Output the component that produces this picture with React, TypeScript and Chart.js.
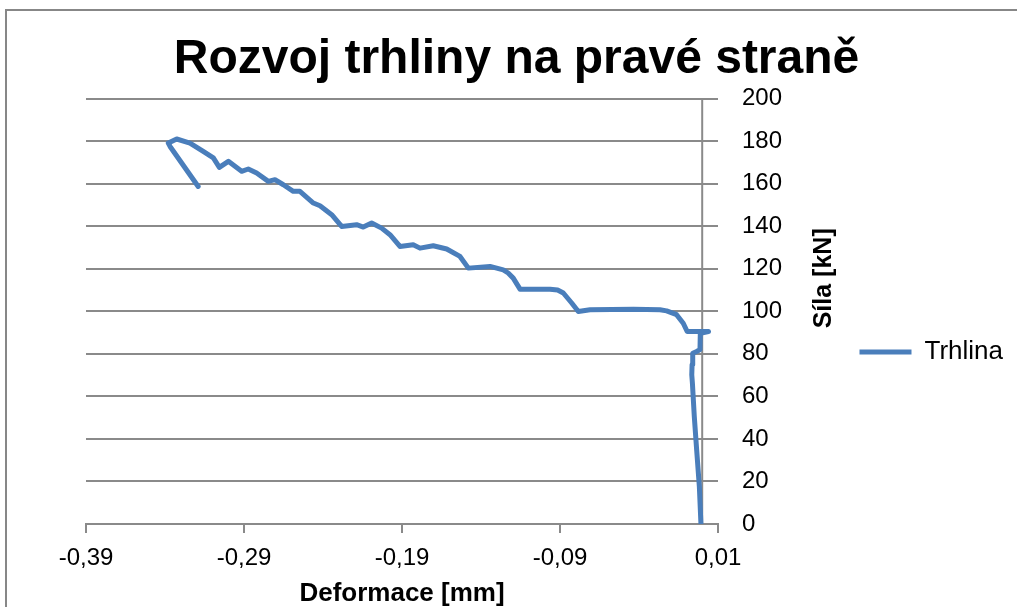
import { useEffect, useRef } from 'react';
import { Chart, registerables } from 'chart.js';

Chart.register(...registerables);

// ---- Data ----
const chartTitle = 'Rozvoj trhliny na pravé straně';
const seriesName = 'Trhlina';
const xAxisTitle = 'Deformace [mm]';
const yAxisTitle = 'Síla [kN]';

// Deformation [mm] in loading order
const deformace = [
  -0.0008, -0.0018, -0.0035, -0.005, -0.0062, -0.0066, -0.0064, -0.006, -0.0035, -0.0014,
  -0.0012, 0.004, -0.0095, -0.012, -0.0162, -0.0225, -0.0267, -0.0436, -0.071, -0.0784,
  -0.0826, -0.0879, -0.0915, -0.0963, -0.1153, -0.1196, -0.1228, -0.1259, -0.1343, -0.148,
  -0.1533, -0.1617, -0.1702, -0.1786, -0.1829, -0.1913, -0.1976, -0.2029, -0.2092, -0.2145,
  -0.2187, -0.2282, -0.2345, -0.2419, -0.2461, -0.2546, -0.2588, -0.2651, -0.2704, -0.2746,
  -0.282, -0.2873, -0.2915, -0.2999, -0.3056, -0.3094, -0.3158, -0.3242, -0.3326, -0.3379,
  -0.3368, -0.319,
];
// Force [kN]
const sila = [
  0, 17.6, 34.8, 50.5, 66.2, 70.1, 75, 80.3, 81.1, 82,
  89.7, 90.5, 90.5, 94.4, 98.4, 100.2, 100.7, 101, 100.7, 99.9,
  103.9, 108.6, 110, 110.4, 110.4, 115.6, 118, 119.5, 121.1, 120.3,
  125.8, 129.3, 130.8, 129.7, 131.3, 130.5, 136, 139.1, 141.5, 139.6,
  140.7, 139.9, 145.4, 149.6, 150.9, 156.4, 156.4, 159.5, 161.9, 161.1,
  165, 166.9, 165.8, 170.5, 167.7, 172.1, 175.2, 179.1, 181, 179.1,
  177.5, 158.7,
];

const xTickValues = [-0.39, -0.29, -0.19, -0.09, 0.01];
const yTickValues = [0, 20, 40, 60, 80, 100, 120, 140, 160, 180, 200];

const FONT = '"Liberation Sans", Arial, Helvetica, sans-serif';
const GRID = '#8a8a8a';
const LINE = '#4a7ebb';

const framePlugin = {
  id: 'frame',
  beforeDraw(chart: any) {
    const ctx = chart.ctx;
    ctx.save();
    ctx.strokeStyle = '#878787';
    ctx.lineWidth = 2;
    ctx.strokeRect(6, 10, chart.width + 20, chart.height + 20);
    ctx.restore();
  },
};

const zeroAxisPlugin = {
  id: 'zeroAxis',
  beforeDatasetsDraw(chart: any) {
    const ctx = chart.ctx;
    const x = chart.scales.x.getPixelForValue(0);
    const { top, bottom } = chart.chartArea;
    ctx.save();
    ctx.strokeStyle = GRID;
    ctx.lineWidth = 2;
    ctx.beginPath();
    ctx.moveTo(x, top);
    ctx.lineTo(x, bottom);
    ctx.stroke();
    ctx.restore();
  },
};

const yTitlePlugin = {
  id: 'yTitle',
  afterDraw(chart: any) {
    const ctx = chart.ctx;
    const ys = chart.scales.y;
    const { top, bottom } = chart.chartArea;
    ctx.save();
    ctx.translate(ys.right - 25, (top + bottom) / 2 - 33);
    ctx.rotate(-Math.PI / 2);
    ctx.font = 'bold 25px ' + FONT;
    ctx.fillStyle = '#000';
    ctx.textAlign = 'center';
    ctx.textBaseline = 'middle';
    ctx.fillText(yAxisTitle, 0, 0);
    ctx.restore();
  },
};

const legendShiftPlugin = {
  id: 'legendShift',
  afterLayout(chart: any) {
    const lg = chart.legend;
    if (lg) {
      lg.top += 48.5;
      lg.bottom += 48.5;
    }
  },
};

export default function App() {
  const ref = useRef<HTMLCanvasElement | null>(null);

  useEffect(() => {
    if (!ref.current) return;
    const PAD_L = 20;
    const PAD_R = 4;
    const chart = new Chart(ref.current, {
      type: 'line',
      data: {
        datasets: [
          {
            label: seriesName,
            data: deformace.map((x, i) => ({ x, y: sila[i] })),
            borderColor: LINE,
            backgroundColor: LINE,
            borderWidth: 5,
            borderCapStyle: 'round',
            borderJoinStyle: 'round',
            pointRadius: 0,
            pointHoverRadius: 0,
            tension: 0,
            fill: false,
          },
        ],
      },
      options: {
        animation: false,
        responsive: true,
        maintainAspectRatio: false,
        layout: { padding: { left: PAD_L, right: PAD_R, top: 0, bottom: 0 } },
        plugins: {
          title: {
            display: true,
            text: chartTitle,
            color: '#000',
            font: { family: FONT, size: 48, weight: 'bold', lineHeight: 1.2 },
            padding: { top: 31, bottom: 10 },
          },
          legend: {
            display: true,
            position: 'right',
            labels: {
              color: '#000',
              font: { family: FONT, size: 26 },
              usePointStyle: true,
              pointStyle: 'line',
              pointStyleWidth: 52,
              padding: 10,
            },
          },
          tooltip: { enabled: false },
        },
        scales: {
          x: {
            type: 'linear',
            position: 'bottom',
            min: -0.39,
            max: 0.01,
            afterBuildTicks: (s: any) => {
              s.ticks = xTickValues.map((v) => ({ value: v }));
            },
            afterFit: (s: any) => {
              s.height = 83;
            },
            ticks: {
              color: '#000',
              font: { family: FONT, size: 24 },
              padding: 11,
              maxRotation: 0,
              autoSkip: false,
              callback: (v: any) => Number(v).toFixed(2).replace('.', ','),
            },
            grid: {
              display: true,
              drawOnChartArea: false,
              drawTicks: true,
              tickLength: 9,
              color: GRID,
              lineWidth: 2,
            },
            border: { display: true, color: GRID, width: 2 },
            title: {
              display: true,
              text: xAxisTitle,
              color: '#000',
              font: { family: FONT, size: 26, weight: 'bold', lineHeight: 1 },
              padding: 0,
            },
          },
          y: {
            type: 'linear',
            position: 'right',
            min: 0,
            max: 200,
            afterBuildTicks: (s: any) => {
              s.ticks = yTickValues.map((v) => ({ value: v }));
            },
            afterFit: (s: any) => {
              const lw = s.chart.legend ? s.chart.legend.width : 0;
              s.width = Math.max(0, 1017 - PAD_R - lw - 718);
            },
            ticks: {
              color: '#000',
              font: { family: FONT, size: 24 },
              padding: 24,
            },
            grid: {
              display: true,
              drawTicks: false,
              color: GRID,
              lineWidth: 2,
            },
            border: { display: false },
            title: { display: false },
          },
          yPad: {
            type: 'linear',
            position: 'left',
            display: true,
            grid: { display: false },
            ticks: { display: false },
            border: { display: false },
            afterFit: (s: any) => {
              s.width = 86 - PAD_L;
            },
          },
        },
      } as any,
      plugins: [framePlugin, zeroAxisPlugin, yTitlePlugin, legendShiftPlugin],
    });
    return () => chart.destroy();
  }, []);

  return (
    <div
      style={{
        position: 'fixed',
        left: 0,
        top: 0,
        width: 1017,
        height: 607,
        background: '#fff',
        overflow: 'hidden',
      }}
    >
      <canvas ref={ref} />
    </div>
  );
}
